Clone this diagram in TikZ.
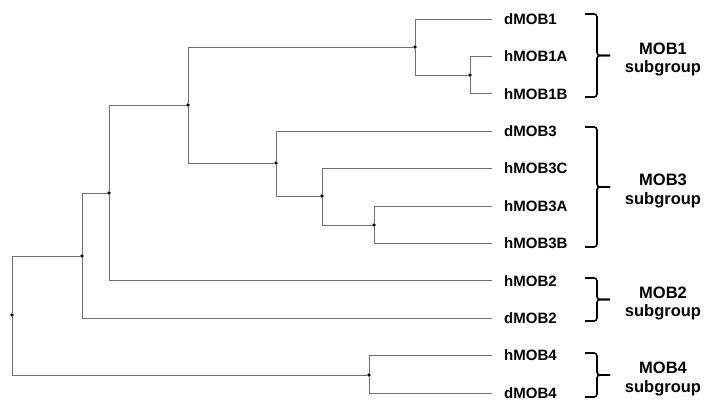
\documentclass[tikz,border=0pt]{standalone}
\usepackage{fontspec}
\setmainfont{Liberation Sans}
\usepackage{tikz}
\usetikzlibrary{positioning,calc}
\definecolor{branchgray}{HTML}{707070}

\begin{document}
\begin{tikzpicture}[x=1pt,y=-1pt,font=\fontsize{15}{18}\selectfont\bfseries,
  branch/.style={draw=branchgray,line width=1pt},
  fork/.style={circle,fill=black,inner sep=0pt,minimum size=3.6pt},
  leaf/.style={anchor=west,inner xsep=12pt,inner ysep=1pt},
  grpbrace/.style={draw=black,line width=1.6pt,rounded corners=3pt},
  grplabel/.style={align=center,inner sep=0pt,font=\fontsize{16.5}{18.5}\selectfont\bfseries}]
  \useasboundingbox (0,0) rectangle (713,407);

  % leaves
  \foreach \lbl [count=\i from 0] in {dMOB1,hMOB1A,hMOB1B,dMOB3,hMOB3C,hMOB3A,
                                      hMOB3B,hMOB2,dMOB2,hMOB4,dMOB4}
    \node[leaf] (\lbl) at (492,{19+37.4*\i}) {\lbl};

  % internal nodes
  \node[fork] (root)   at (12,315)  {};
  \node[fork] (mob4)   at (369,375) {};
  \node[fork] (k2)     at (82,256)  {};
  \node[fork] (k3)     at (109,193) {};
  \node[fork] (k13)    at (188,105) {};
  \node[fork] (mob1)   at (415,47)  {};
  \node[fork] (mob1h)  at (470,75)  {};
  \node[fork] (mob3)   at (276,163) {};
  \node[fork] (mob3h)  at (322,196) {};
  \node[fork] (mob3ab) at (374,225) {};

  \foreach \a/\b in {root/k2,root/mob4,mob4/hMOB4,mob4/dMOB4,k2/k3,k2/dMOB2,
                     k3/k13,k3/hMOB2,k13/mob1,k13/mob3,mob1/dMOB1,mob1/mob1h,
                     mob1h/hMOB1A,mob1h/hMOB1B,mob3/dMOB3,mob3/mob3h,
                     mob3h/hMOB3C,mob3h/mob3ab,mob3ab/hMOB3A,mob3ab/hMOB3B}
    \draw[branch] (\a) |- (\b.west);

  % subgroup brackets
  \foreach \top/\bot/\grp in {14/97/MOB1,127/247/MOB3,278/321/MOB2,353/397/MOB4}{
    \coordinate (\grp tip) at (610,{(\top+\bot)/2});
    \draw[grpbrace] (585,\top) -- (597,\top) -- (597,{(\top+\bot)/2}) -- (\grp tip);
    \draw[grpbrace] (585,\bot) -- (597,\bot) -- (597,{(\top+\bot)/2}) -- (\grp tip);
    \node[grplabel] (\grp lbl) at (663,{(\top+\bot)/2+4}) {\grp\\subgroup};
  }
\end{tikzpicture}
\end{document}
